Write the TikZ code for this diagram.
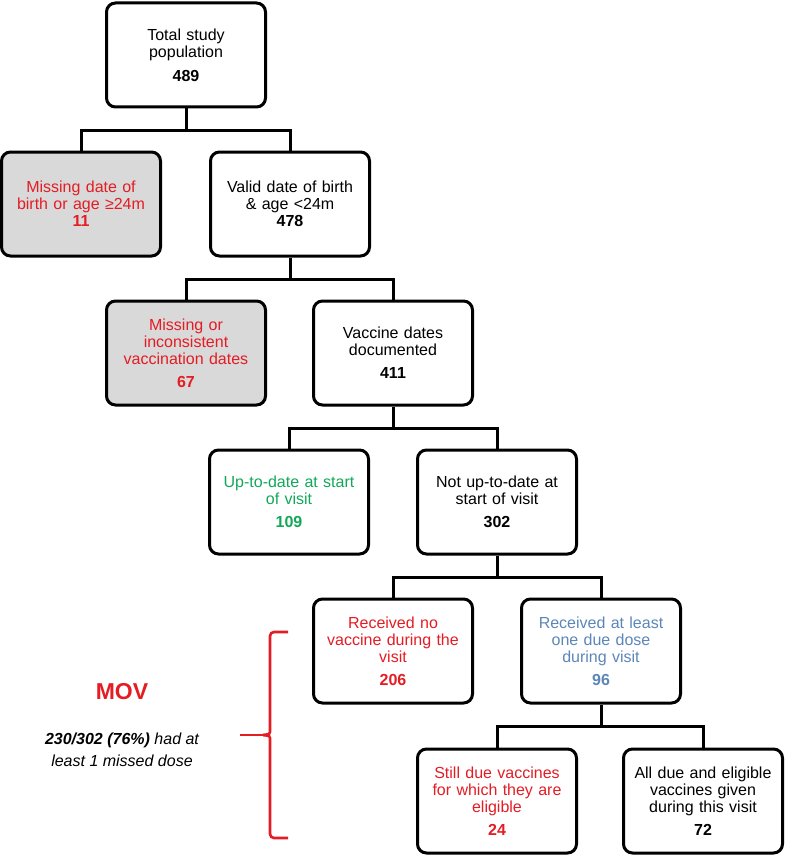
\documentclass[tikz,border=0pt]{standalone}
\usepackage{fontspec}
\setmainfont{Liberation Sans}
\usetikzlibrary{calc,positioning}
\definecolor{movred}{RGB}{228,28,36}
\definecolor{okgreen}{RGB}{18,168,88}
\definecolor{dueblue}{RGB}{92,134,184}
\definecolor{boxgrey}{RGB}{217,217,217}
\tikzset{
  stage/.style={
    draw=black,
    line width=3pt,
    rounded corners=9pt,
    minimum width=159pt,
    minimum height=104pt,
    text width=156pt,
    inner sep=0pt,
    align=center,
    font=\fontsize{16}{17}\selectfont
  },
  dropped/.style={stage, fill=boxgrey},
  link/.style={draw=black, line width=3pt},
  brace/.style={draw=movred, line width=2.6pt, rounded corners=4pt},
  note/.style={align=center, inner sep=0pt, font=\fontsize{16}{22}\selectfont\itshape},
}

\begin{document}
\begin{tikzpicture}[x=1pt,y=-1pt]
  \useasboundingbox (0,0) rectangle (787,856);
  % level 1
  \node[stage] (total) at (186,55) {Total study\\population\\[7pt]\textbf{489}};
  % level 2
  \node[dropped, text=movred] (nodob) at (81,204) {Missing date of\\birth or age ≥24m\\\textbf{11}};
  \node[stage] (validdob) at (290,204) {Valid date of birth\\\& age <24m\\\textbf{478}};
  % level 3
  \node[dropped, text=movred] (novacc) at (186,353) {Missing or\\inconsistent\\vaccination dates\\[6pt]\textbf{67}};
  \node[stage] (vaccdoc) at (393,353) {Vaccine dates\\documented\\[6pt]\textbf{411}};
  % level 4
  \node[stage, text=okgreen] (uptodate) at (289,502) {Up-to-date at start\\of visit\\[6pt]\textbf{109}};
  \node[stage] (notupto) at (497,502) {Not up-to-date at\\start of visit\\[6pt]\textbf{302}};
  % level 5
  \node[stage, text=movred] (novisit) at (393,651) {Received no\\vaccine during the\\visit\\[6pt]\textbf{206}};
  \node[stage, text=dueblue] (somedose) at (601,651) {Received at least\\one due dose\\during visit\\[6pt]\textbf{96}};
  % level 6
  \node[stage, text=movred] (stilldue) at (497,801) {Still due vaccines\\for which they are\\eligible\\[6pt]\textbf{24}};
  \node[stage] (alldue) at (703,801) {All due and eligible\\vaccines given\\during this visit\\[6pt]\textbf{72}};

  % connectors
  \foreach \p/\a/\b in {total/nodob/validdob, validdob/novacc/vaccdoc,
                        vaccdoc/uptodate/notupto, notupto/novisit/somedose,
                        somedose/stilldue/alldue} {
    \draw[link] (\p.south) -- ++(0,22) coordinate (\p-j);
    \draw[link] (\a.north) |- (\p-j) -| (\b.north);
  }

  % missed opportunities
  \coordinate (bt) at (288,632);
  \coordinate (bm) at (270,735);
  \coordinate (bb) at (288,838);
  \coordinate (btip) at ($(bm)+(-7,0)$);
  \draw[brace] (bt) -| ($(bm)+(0,-7)$) .. controls ($(bm)+(0,-1)$) .. (btip);
  \draw[brace] (bb) -| ($(bm)+(0,7)$) .. controls ($(bm)+(0,1)$) .. (btip);
  \draw[brace, rounded corners=0pt] (btip) -- ++(-23,0);
  \node[font=\fontsize{23}{23}\selectfont\bfseries, text=movred] (mov) at (122,692) {MOV};
  \node[note, below=29pt of mov] (movtxt) {\textbf{230/302 (76\%)} had at\\least 1 missed dose};
\end{tikzpicture}
\end{document}
